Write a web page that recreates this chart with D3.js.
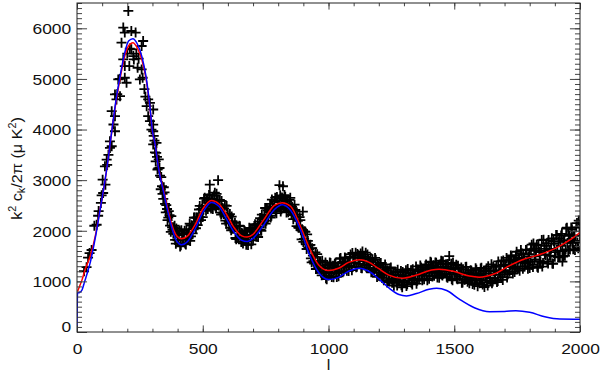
<!DOCTYPE html>
<html>
<head>
<meta charset="utf-8">
<script src="https://cdn.jsdelivr.net/npm/d3@7"></script>
<style>
  body { margin: 0; background: #fff; }
  text { font-family: "Liberation Sans", Arial, Helvetica, sans-serif; fill: #111; }
</style>
</head>
<body>
<script>
// ==========================================
// DATA
// ==========================================

// sparse measured points, low multipoles + a few outliers
const lowL = [28,38,44,50,58,69,78,84,86,95,98,102,104,111,113,118,120,125,131,131,
  138,138,145,151,151,151,157,160,164,170,171,177,184,184,190,190,190,197,200,204,
  208,210,216,216,224,226,233,236,241,245,250,257,257,261,263,268,272,277,283,283,
  290,290,296,303,303,303,316,528,561,805,819,898,1480,1930];
const lowV = [1200,1280,1470,1560,1620,2099,2119,2297,2390,2550,2700,3010,2746,3273,2911,3406,3300,3500,3637,3768,
  3670,4362,4100,4264,3966,4693,4594,4700,4990,5000,4660,5717,6014,5386,5915,5253,5023,4924,5500,6343,
  5253,5600,5947,5584,5452,5386,5915,5500,5221,5400,4990,5650,5188,5023,5749,4800,4650,4462,4594,4264,
  4528,4165,4000,4099,3966,4396,3736,2910,3000,2900,2880,2380,1500,1392];

// dense measured band, first set (l = 305 .. 2000)
const bandL = [305,310,315,320,325,330,335,340,345,350,355,360,365,370,375,380,385,390,395,400,
  405,410,415,420,425,430,435,440,445,450,455,460,465,470,475,480,485,490,495,500,
  505,510,515,520,525,530,535,540,545,550,555,560,565,570,575,580,585,590,595,600,
  605,610,615,620,625,630,635,640,645,650,655,660,665,670,675,680,685,690,695,700,
  705,710,715,720,725,730,735,740,745,750,755,760,765,770,775,780,785,790,795,800,
  805,810,815,820,825,830,835,840,845,850,855,860,865,870,875,880,885,890,895,900,
  905,910,915,920,925,930,935,940,945,950,955,960,965,970,975,980,985,990,995,1000,
  1005,1010,1015,1020,1025,1030,1035,1040,1045,1050,1055,1060,1065,1070,1075,1080,1085,1090,1095,1100,
  1105,1110,1115,1120,1125,1130,1135,1140,1145,1150,1155,1160,1165,1170,1175,1180,1185,1190,1195,1200,
  1205,1210,1215,1220,1225,1230,1235,1240,1245,1250,1255,1260,1265,1270,1275,1280,1285,1290,1295,1300,
  1305,1310,1315,1320,1325,1330,1335,1340,1345,1350,1355,1360,1365,1370,1375,1380,1385,1390,1395,1400,
  1405,1410,1415,1420,1425,1430,1435,1440,1445,1450,1455,1460,1465,1470,1475,1480,1485,1490,1495,1500,
  1505,1510,1515,1520,1525,1530,1535,1540,1545,1550,1555,1560,1565,1570,1575,1580,1585,1590,1595,1600,
  1605,1610,1615,1620,1625,1630,1635,1640,1645,1650,1655,1660,1665,1670,1675,1680,1685,1690,1695,1700,
  1705,1710,1715,1720,1725,1730,1735,1740,1745,1750,1755,1760,1765,1770,1775,1780,1785,1790,1795,1800,
  1805,1810,1815,1820,1825,1830,1835,1840,1845,1850,1855,1860,1865,1870,1875,1880,1885,1890,1895,1900,
  1905,1910,1915,1920,1925,1930,1935,1940,1945,1950,1955,1960,1965,1970,1975,1980,1985,1990,1995,2000];
const bandV = [3875,3550,3540,3210,3410,3090,3060,2730,2860,2530,2505,2210,2390,2100,2290,2020,2070,1820,2045,1810,
  1910,1690,2010,1825,1937,1750,2030,1850,1960,1800,2110,1950,2260,2110,2260,2110,2420,2270,2430,2270,
  2635,2480,2605,2430,2708,2526,2620,2428,2695,2483,2730,2510,2590,2360,2590,2360,2440,2200,2490,2253,
  2307,2060,2280,2040,2080,1857,2093,1860,2100,1880,1960,1750,2000,1798,1916,1721,2058,1875,1992,1810,
  2095,1920,2033,1877,2180,2020,2320,2160,2300,2140,2440,2273,2427,2260,2617,2453,2580,2393,2667,2480,
  2565,2380,2655,2450,2705,2500,2583,2367,2610,2400,2475,2230,2515,2280,2323,2065,2268,2010,2030,1780,
  1990,1730,1930,1670,1710,1453,1657,1400,1483,1245,1538,1310,1390,1170,1410,1190,1261,1062,1324,1115,
  1374,1174,1278,1081,1345,1157,1288,1100,1445,1270,1385,1200,1474,1288,1381,1205,1484,1293,1561,1370,
  1474,1277,1541,1344,1465,1262,1589,1395,1486,1278,1529,1320,1385,1180,1435,1220,1463,1245,1328,1110,
  1353,1135,1238,1020,1336,1133,1219,1005,1255,1045,1115,915,1180,976,1231,1026,1125,924,1183,985,
  1106,908,1244,1059,1165,970,1239,1048,1136,955,1234,1043,1313,1122,1231,1040,1308,1115,1243,1050,
  1388,1205,1308,1111,1374,1176,1259,1072,1340,1138,1396,1194,1292,1090,1344,1138,1253,1047,1371,1175,
  1267,1058,1310,1102,1173,975,1238,1032,1285,1078,1172,965,1222,1019,1136,934,1261,1068,1165,963,
  1256,1018,1116,889,1217,980,1298,1067,1195,963,1287,1055,1213,987,1395,1178,1312,1085,1413,1187,
  1295,1078,1417,1190,1512,1283,1415,1187,1513,1285,1441,1212,1618,1399,1527,1295,1618,1385,1488,1265,
  1638,1325,1748,1435,1603,1290,1713,1400,1603,1292,1825,1533,1702,1390,1816,1508,1644,1355,1797,1488,
  1915,1609,1783,1477,1906,1600,1810,1505,2045,1760,1935,1630,2063,1760,1903,1620,2069,1768,2202,1901];

// dense measured band, second set (l = 303 .. 1998)
const band2L = [303,308,313,318,323,328,333,338,343,348,353,358,363,368,373,378,383,388,393,398,
  403,408,413,418,423,428,433,438,443,448,453,458,463,468,473,478,483,488,493,498,
  503,508,513,518,523,528,533,538,543,548,553,558,563,568,573,578,583,588,593,598,
  603,608,613,618,623,628,633,638,643,648,653,658,663,668,673,678,683,688,693,698,
  703,708,713,718,723,728,733,738,743,748,753,758,763,768,773,778,783,788,793,798,
  803,808,813,818,823,828,833,838,843,848,853,858,863,868,873,878,883,888,893,898,
  903,908,913,918,923,928,933,938,943,948,953,958,963,968,973,978,983,988,993,998,
  1003,1008,1013,1018,1023,1028,1033,1038,1043,1048,1053,1058,1063,1068,1073,1078,1083,1088,1093,1098,
  1103,1108,1113,1118,1123,1128,1133,1138,1143,1148,1153,1158,1163,1168,1173,1178,1183,1188,1193,1198,
  1203,1208,1213,1218,1223,1228,1233,1238,1243,1248,1253,1258,1263,1268,1273,1278,1283,1288,1293,1298,
  1303,1308,1313,1318,1323,1328,1333,1338,1343,1348,1353,1358,1363,1368,1373,1378,1383,1388,1393,1398,
  1403,1408,1413,1418,1423,1428,1433,1438,1443,1448,1453,1458,1463,1468,1473,1478,1483,1488,1493,1498,
  1503,1508,1513,1518,1523,1528,1533,1538,1543,1548,1553,1558,1563,1568,1573,1578,1583,1588,1593,1598,
  1603,1608,1613,1618,1623,1628,1633,1638,1643,1648,1653,1658,1663,1668,1673,1678,1683,1688,1693,1698,
  1703,1708,1713,1718,1723,1728,1733,1738,1743,1748,1753,1758,1763,1768,1773,1778,1783,1788,1793,1798,
  1803,1808,1813,1818,1823,1828,1833,1838,1843,1848,1853,1858,1863,1868,1873,1878,1883,1888,1893,1898,
  1903,1908,1913,1918,1923,1928,1933,1938,1943,1948,1953,1958,1963,1968,1973,1978,1983,1988,1993,1998];
const band2V = [3705,3780,3370,3460,3230,3240,2820,2880,2630,2760,2365,2430,2260,2310,1980,2070,1940,2100,1745,1950,
  1820,2000,1712,1935,1847,2000,1730,1940,1850,2140,1890,2100,2070,2260,2050,2260,2230,2490,2210,2490,
  2415,2650,2395,2640,2558,2716,2440,2628,2505,2753,2450,2600,2500,2610,2320,2450,2330,2500,2140,2333,
  2177,2330,2010,2190,2050,2157,1833,1990,1850,2090,1780,1940,1850,1988,1726,1891,1818,2035,1732,1990,
  1905,2130,1883,2137,2070,2250,2000,2230,2150,2450,2200,2403,2357,2530,2297,2483,2430,2653,2347,2600,
  2495,2700,2425,2640,2535,2670,2363,2537,2400,2650,2315,2440,2315,2410,2093,2195,2058,2210,1830,2010,
  1840,1980,1640,1800,1640,1723,1377,1510,1353,1575,1248,1380,1280,1400,1120,1260,1171,1372,1044,1275,
  1164,1364,1088,1311,1215,1367,1088,1290,1185,1460,1185,1370,1304,1458,1211,1385,1314,1533,1221,1470,
  1364,1567,1291,1514,1415,1552,1259,1445,1316,1568,1269,1430,1335,1460,1185,1330,1233,1425,1088,1310,
  1183,1365,1068,1270,1156,1283,979,1155,1025,1275,975,1135,1050,1186,921,1076,995,1204,883,1125,
  1016,1218,944,1169,1075,1220,939,1138,1026,1295,1014,1193,1123,1272,1021,1190,1118,1335,1023,1270,
  1168,1375,1098,1321,1224,1366,1079,1272,1150,1408,1116,1284,1202,1340,1074,1228,1143,1347,1021,1255,
  1137,1328,1040,1252,1143,1275,978,1162,1035,1288,992,1155,1072,1209,946,1104,1021,1228,905,1143,
  1026,1268,936,1204,1087,1255,918,1152,1015,1338,997,1210,1128,1307,1010,1213,1132,1400,1028,1327,
  1210,1463,1142,1420,1312,1488,1155,1392,1258,1585,1246,1462,1378,1554,1252,1450,1363,1625,1248,1540,
  1398,1725,1283,1645,1493,1725,1268,1580,1393,1817,1365,1643,1522,1755,1351,1618,1504,1850,1347,1743,
  1580,1914,1478,1847,1701,1940,1490,1810,1630,2060,1615,1900,1788,2030,1633,1905,1799,2153,1657,2061];

// red curve (fit to data)
const redL = [2,10,20,32,52,75,90,100,120,138,155,171,190,205,222,240,258,274,290,300,
  310,323,347,362,383,396,415,440,470,500,534,565,595,625,655,676,700,740,785,816,
  850,890,925,960,1000,1040,1080,1123,1160,1200,1240,1295,1350,1410,1440,1500,1560,1599,1660,1720,
  1771,1840,1904,1960,2000];
const redV = [800,900,1030,1230,1491,1950,2380,2640,3280,3950,4540,5000,5450,5650,5717,5610,5380,5020,4430,3960,
  3720,3280,2740,2410,2030,1900,1842,1900,2120,2430,2600,2530,2320,2060,1900,1875,1930,2200,2500,2555,
  2480,2070,1650,1330,1215,1260,1375,1426,1380,1250,1125,1063,1125,1225,1242,1195,1105,1083,1150,1310,
  1426,1530,1657,1820,1966];

// blue curve (model)
const blueL = [0,2,10,20,30,40,52,60,75,90,100,120,138,155,171,190,205,222,240,258,
  274,290,300,310,323,347,362,383,396,415,440,470,500,534,565,595,625,655,676,700,
  740,785,816,850,890,925,960,1000,1040,1080,1123,1160,1200,1240,1280,1310,1350,1400,1430,1470,
  1520,1580,1640,1700,1745,1800,1860,1920,2000];
const blueV = [0,770,780,830,990,1150,1360,1540,1920,2360,2650,3280,3960,4580,5050,5520,5750,5796,5690,5440,
  5060,4450,3970,3720,3270,2700,2360,1960,1800,1723,1790,2040,2360,2560,2480,2230,1970,1810,1788,1850,
  2100,2420,2515,2400,2000,1520,1180,1035,1080,1200,1261,1200,1050,870,740,713,760,845,865,820,
  650,480,402,405,422,390,300,255,251];

const xMajor = [0, 500, 1000, 1500, 2000];
const yMajor = [0, 1000, 2000, 3000, 4000, 5000, 6000];

// ==========================================
// SETUP
// ==========================================
const W = 600, H = 373;
const margin = {top: 3, right: 20, bottom: 41, left: 77};
const width = W - margin.left - margin.right;
const height = H - margin.top - margin.bottom;
const fs = 15, stretch = 1.16;   // the reference glyphs are a bit wide

const svg = d3.select("body").append("svg")
    .attr("width", W).attr("height", H)
  .append("g")
    .attr("transform", `translate(${margin.left},${margin.top})`);

const x = d3.scaleLinear().domain([0, 2000]).range([0, width]);
const y = d3.scaleLinear().domain([0, 6500]).range([height, 0]);

svg.append("clipPath").attr("id", "clip")
  .append("rect").attr("width", width).attr("height", height);

// ==========================================
// MARKS
// ==========================================
const points = lowL.map((l, i) => [l, lowV[i]])
  .concat(bandL.map((l, i) => [l, bandV[i]]))
  .concat(band2L.map((l, i) => [l, band2V[i]]));

const plot = svg.append("g").attr("clip-path", "url(#clip)");

plot.append("g").selectAll("path")
  .data(points)
  .join("path")
    .attr("d", "M-5,0H5M0,-5V5")
    .attr("transform", d => `translate(${x(d[0])},${y(d[1])})`)
    .attr("fill", "none")
    .attr("stroke", "#000")
    .attr("stroke-width", 1.8);

const line = d3.line()
    .x(d => x(d[0]))
    .y(d => y(d[1]))
    .curve(d3.curveMonotoneX);

plot.append("path")
    .datum(redL.map((l, i) => [l, redV[i]]))
    .attr("d", line)
    .attr("fill", "none")
    .attr("stroke", "#ff0000")
    .attr("stroke-width", 1.5);

plot.append("path")
    .datum(blueL.map((l, i) => [l, blueV[i]]))
    .attr("d", line)
    .attr("fill", "none")
    .attr("stroke", "#0000ff")
    .attr("stroke-width", 1.5);

// ==========================================
// AXES (IDL style: ticks inside on all four sides)
// ==========================================
const xMinor = d3.range(0, 2001, 100);
const yMinor = d3.range(0, 6501, 100);
const xTick = 0.02 * height, yTick = 0.02 * width;

function styleAxis(g) {
  g.select(".domain").remove();
  g.selectAll("line").attr("stroke", "#444");
  g.attr("font-size", fs).attr("font-family", null);
}

svg.append("g").attr("transform", `translate(0,${height})`)
  .call(d3.axisBottom(x).tickValues(xMinor).tickSize(-xTick / 2).tickFormat("")).call(styleAxis);
svg.append("g")
  .call(d3.axisTop(x).tickValues(xMinor).tickSize(-xTick / 2).tickFormat("")).call(styleAxis);
svg.append("g")
  .call(d3.axisLeft(y).tickValues(yMinor).tickSize(-yTick / 2).tickFormat("")).call(styleAxis);
svg.append("g").attr("transform", `translate(${width},0)`)
  .call(d3.axisRight(y).tickValues(yMinor).tickSize(-yTick / 2).tickFormat("")).call(styleAxis);

const xAxisG = svg.append("g").attr("transform", `translate(0,${height})`)
  .call(d3.axisBottom(x).tickValues(xMajor).tickSize(-xTick).tickPadding(11).tickFormat(d3.format("d")))
  .call(styleAxis);
xAxisG.selectAll("text").attr("transform", `scale(${stretch},1)`);

svg.append("g")
  .call(d3.axisTop(x).tickValues(xMajor).tickSize(-xTick).tickFormat("")).call(styleAxis);

const yAxisG = svg.append("g")
  .call(d3.axisLeft(y).tickValues(yMajor).tickSize(-yTick).tickPadding(5).tickFormat(d3.format("d")))
  .call(styleAxis);
yAxisG.selectAll("text")
  .attr("transform", `scale(${stretch},1)`)
  .attr("dy", d => d === 0 ? "-0.05em" : "0.36em");

svg.append("g").attr("transform", `translate(${width},0)`)
  .call(d3.axisRight(y).tickValues(yMajor).tickSize(-yTick).tickFormat("")).call(styleAxis);

// plot frame
svg.append("rect")
    .attr("width", width).attr("height", height)
    .attr("fill", "none").attr("stroke", "#222").attr("stroke-width", 1);

// ==========================================
// AXIS TITLES
// ==========================================
svg.append("text")
    .attr("transform", `translate(${x(1000)},${height + 38}) scale(${stretch},1)`)
    .attr("text-anchor", "middle")
    .attr("font-size", 14)
    .text("l");

const yl = svg.append("text")
    .attr("transform", `translate(-55,${height / 2 + 1}) rotate(-90) scale(1.08,1)`)
    .attr("text-anchor", "middle")
    .attr("font-size", fs);
yl.append("tspan").text("k");
yl.append("tspan").attr("dy", -6).attr("font-size", 10).text("2");
yl.append("tspan").attr("dy", 6).text(" c");
yl.append("tspan").attr("dy", 3).attr("font-size", 10).text("k");
yl.append("tspan").attr("dy", -3).text("/2\u03c0 (\u03bc K");
yl.append("tspan").attr("dy", -6).attr("font-size", 10).text("2");
yl.append("tspan").attr("dy", 6).text(")");
</script>
</body>
</html>
